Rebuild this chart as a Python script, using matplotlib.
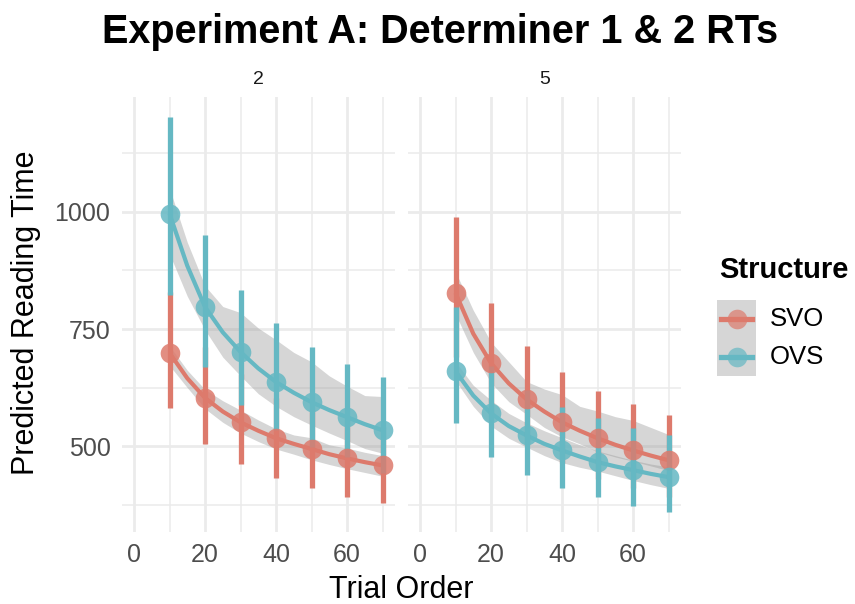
import matplotlib
matplotlib.use("Agg")
import matplotlib.pyplot as plt
import numpy as np

plt.rcParams['font.family'] = ['Liberation Sans', 'DejaVu Sans']

panels = ["2", "5"]
structures = ["SVO", "OVS"]
colors = {"SVO": "#DD7A6C", "OVS": "#65B8C3"}

trial = [10, 20, 30, 40, 50, 60, 70]
# point estimates and error bar limits, per panel
means = {
    "2": {"SVO": [699, 603, 551, 517, 494, 474, 459],
          "OVS": [996, 797, 701, 637, 594, 562, 534]},
    "5": {"SVO": [827, 677, 600, 551, 517, 491, 470],
          "OVS": [660, 570, 523, 491, 466, 449, 434]},
}
err_lo = {
    "2": {"SVO": [581, 504, 462, 432, 410, 391, 378],
          "OVS": [823, 669, 588, 535, 498, 477, 442]},
    "5": {"SVO": [690, 570, 502, 464, 430, 410, 391],
          "OVS": [549, 477, 438, 410, 391, 372, 359]},
}
err_hi = {
    "2": {"SVO": [829, 712, 654, 602, 578, 557, 540],
          "OVS": [1203, 951, 833, 763, 712, 675, 647]},
    "5": {"SVO": [989, 805, 714, 659, 618, 590, 566],
          "OVS": [797, 672, 620, 584, 560, 539, 523]},
}

# smooth fit and its band
fit_x = [10, 15, 20, 25, 30, 35, 40, 45, 50, 55, 60, 65, 70]
fit_y = {
    "2": {"SVO": [699, 645, 603, 574, 551, 533, 517, 505, 494, 483, 474, 466, 459],
          "OVS": [996, 885, 797, 743, 701, 666, 637, 614, 594, 577, 562, 547, 534]},
    "5": {"SVO": [827, 740, 677, 634, 600, 574, 551, 533, 517, 503, 491, 480, 470],
          "OVS": [660, 608, 570, 543, 523, 505, 491, 478, 466, 457, 449, 441, 434]},
}
band_hi = {
    "2": {"SVO": [714, 662, 621, 597, 577, 556, 537, 524, 518, 503, 496, 487, 480],
          "OVS": [1050, 935, 842, 798, 785, 752, 727, 700, 680, 650, 628, 608, 606]},
    "5": {"SVO": [872, 790, 722, 680, 638, 622, 610, 585, 575, 563, 555, 540, 525],
          "OVS": [680, 630, 598, 570, 550, 533, 518, 503, 490, 480, 470, 462, 456]},
}
band_lo = {
    "2": {"SVO": [672, 625, 580, 551, 528, 510, 494, 483, 471, 461, 452, 444, 436],
          "OVS": [910, 820, 748, 690, 650, 612, 585, 563, 545, 528, 512, 495, 485]},
    "5": {"SVO": [782, 700, 635, 595, 568, 540, 520, 505, 488, 477, 468, 458, 448],
          "OVS": [640, 585, 543, 517, 498, 480, 465, 455, 447, 437, 427, 418, 410]},
}

W, H = 855, 604
fig = plt.figure(figsize=(W / 100, H / 100), dpi=100)

def px(x0, y0, x1, y1):
    return [x0 / W, 1 - y1 / H, (x1 - x0) / W, (y1 - y0) / H]

axes = [fig.add_axes(px(121.6, 97, 395, 532)), fig.add_axes(px(407.6, 97, 681, 532))]

for ax, p in zip(axes, panels):
    ax.set_xlim(-3.5, 73.5)
    ax.set_ylim(317, 1245)
    for s in ax.spines.values():
        s.set_visible(False)
    for v in [0, 20, 40, 60]:
        ax.axvline(v, color="#EBEBEB", lw=2.0, zorder=0)
    for v in [10, 30, 50, 70]:
        ax.axvline(v, color="#EBEBEB", lw=1.1, zorder=0)
    for v in [500, 750, 1000]:
        ax.axhline(v, color="#EBEBEB", lw=2.0, zorder=0)
    for v in [375, 625, 875, 1125]:
        ax.axhline(v, color="#EBEBEB", lw=1.1, zorder=0)

    for s in structures:
        ax.fill_between(fit_x, band_lo[p][s], band_hi[p][s], color="#999999",
                        alpha=0.4, lw=0, zorder=1)
    for s in structures:
        ax.plot(fit_x, fit_y[p][s], color=colors[s], lw=3.0, zorder=2,
                solid_capstyle="butt")
    for s in structures:
        ax.vlines(trial, err_lo[p][s], err_hi[p][s], color=colors[s], lw=3.8,
                  zorder=3)
        ax.scatter(trial, means[p][s], s=200, color=colors[s], alpha=0.85,
                   lw=0, zorder=4)

    ax.set_xticks([0, 20, 40, 60])
    ax.set_yticks([500, 750, 1000])
    ax.tick_params(length=0, labelsize=18, labelcolor="#4D4D4D", pad=8)
    if ax is axes[1]:
        ax.tick_params(labelleft=False)

    fig.text((ax.get_position().x0 + ax.get_position().x1) / 2, 1 - 80 / H, p,
             ha="center", va="center", fontsize=14, color="#1A1A1A")

fig.text(440 / W, 1 - 32 / H, "Experiment A: Determiner 1 & 2 RTs",
         ha="center", va="center", fontsize=28.5, fontweight="bold")
fig.text(26 / W, 1 - 313 / H, "Predicted Reading Time", rotation=90,
         ha="center", va="center", fontsize=22)
fig.text(401 / W, 1 - 590 / H, "Trial Order", ha="center", va="center",
         fontsize=22)

# legend
fig.text(719 / W, 1 - 270 / H, "Structure", ha="left", va="center",
         fontsize=21, fontweight="bold")
for i, s in enumerate(structures):
    y0 = 300 + i * 38
    lax = fig.add_axes(px(717, y0, 756, y0 + 38))
    lax.set_xlim(0, 1)
    lax.set_ylim(0, 1)
    lax.set_facecolor("#D6D6D6")
    for sp in lax.spines.values():
        sp.set_visible(False)
    lax.set_xticks([])
    lax.set_yticks([])
    lax.plot([0.1, 0.9], [0.5, 0.5], color=colors[s], lw=3.8)
    lax.scatter([0.5], [0.5], s=200, color=colors[s], alpha=0.7, lw=0)
    fig.text(770 / W, 1 - (y0 + 19) / H, s, ha="left", va="center",
             fontsize=18.5)

fig.savefig("out.png", dpi=100)
